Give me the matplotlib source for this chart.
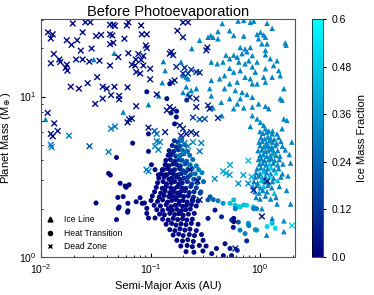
import numpy as np
import matplotlib
matplotlib.use('Agg')
from matplotlib import pyplot as plt
from matplotlib.colors import LinearSegmentedColormap
from matplotlib.lines import Line2D

plt.rcParams.update({
    'font.family': ['Liberation Sans', 'DejaVu Sans'],
    'font.size': 8,
})

# ---- Ice Line planets (triangles) ----
ice_a = [0.0304, 0.0110, 0.0466, 0.131, 0.136, 0.128, 0.119, 0.0958, 0.0563,
         0.452, 0.527, 0.413, 0.335, 0.355, 0.372, 0.413, 0.281, 0.238, 0.489,
         0.528, 0.459, 0.359, 0.407, 0.528, 0.474, 0.359, 0.428, 0.528, 0.347,
         0.474, 0.359, 0.372, 0.443, 0.528, 0.449, 0.190, 0.198, 0.212, 0.220,
         0.212, 0.262, 0.235, 0.198, 0.220,
         0.63, 0.71, 0.815, 0.876, 1.16, 1.29, 0.575, 0.71, 0.94, 1.01,
         1.08, 0.97, 1.12, 1.04, 1.16, 1.70, 1.73, 0.66, 0.73, 0.815,
         0.575, 0.62, 0.685, 0.76, 1.12, 1.12, 0.85, 0.79, 0.94, 1.24,
         1.43, 0.64, 0.73, 0.66, 0.575, 0.85, 1.12, 1.33, 1.48, 0.905,
         0.73, 0.815, 0.62, 0.85, 0.94, 1.08, 1.29, 1.53, 1.12, 1.65,
         0.595, 0.685, 0.76, 0.85, 0.66, 0.62, 0.575, 0.71, 0.85, 0.97,
         1.12, 1.20, 1.53, 1.59, 0.85, 0.94, 1.01, 1.08, 1.12, 1.20,
         1.29, 1.43, 1.65, 1.76, 1.59, 0.815,
         1.00, 1.06, 1.15, 1.30,
         1.02, 1.10, 1.18, 1.25, 1.35, 1.48,
         0.98, 1.05, 1.15, 1.22, 1.30, 1.42, 1.55, 1.95,
         1.00, 1.08, 1.13, 1.20, 1.28, 1.38, 1.60,
         0.96, 1.04, 1.12, 1.18, 1.26, 1.33, 1.45, 1.70,
         1.00, 1.07, 1.15, 1.24, 1.30, 1.40, 1.52, 1.85,
         0.97, 1.03, 1.10, 1.20, 1.27, 1.36, 1.50,
         0.99, 1.06, 1.14, 1.22, 1.32, 1.45, 1.62, 1.90,
         0.94, 1.02, 1.09, 1.17, 1.26, 1.35, 1.48,
         0.92, 1.00, 1.08, 1.15, 1.25, 1.40, 1.60,
         0.90, 0.97, 1.05, 1.12, 1.22, 1.33, 1.55, 1.80,
         0.88, 0.95, 1.03, 1.10, 1.20, 1.30, 1.45,
         0.86, 0.94, 1.01, 1.08, 1.18, 1.28, 1.50,
         0.90, 0.98, 1.06, 1.16, 1.35, 1.75,
         0.92, 1.00, 1.12, 1.25, 1.40,
         1.04, 1.43, 1.29, 1.15, 1.65, 1.65, 1.90]
ice_m = [17.0, 7.2, 18.6, 16.5, 14.5, 12.2, 10.1, 8.9, 8.0,
         28.5, 25.7, 25.4, 23.4, 24.0, 23.4, 22.9, 22.4, 19.9, 18.1,
         17.2, 16.4, 16.4, 16.0, 15.0, 13.5, 12.6, 12.9, 12.0, 11.2,
         11.2, 10.1, 8.5, 9.2, 9.7, 7.6, 16.4, 13.5, 13.2, 12.9,
         11.5, 11.2, 10.9, 10.6, 10.4,
         29.5, 29.8, 29.0, 29.5, 28.6, 26.6, 24.0, 23.8, 24.4, 25.1,
         24.2, 22.9, 23.4, 21.3, 21.3, 21.6, 20.9, 20.2, 19.8, 20.2,
         18.1, 17.6, 18.5, 19.0, 19.4, 18.2, 18.0, 16.7, 16.4, 17.2,
         16.7, 16.4, 16.0, 14.5, 14.2, 15.3, 14.9, 15.6, 14.5, 14.2,
         13.2, 12.9, 12.3, 12.0, 12.0, 13.2, 13.2, 13.5, 12.3, 11.2,
         10.9, 10.6, 10.3, 9.9, 9.7, 9.0, 8.4, 8.5, 8.6, 9.0,
         8.7, 8.4, 9.7, 9.5, 7.6, 7.25, 6.9, 6.6, 6.3, 6.1,
         5.85, 5.85, 7.25, 7.1, 6.3, 6.5,
         6.05, 5.9, 6.0, 6.1,
         5.55, 5.45, 5.6, 5.5, 5.4, 5.55,
         5.2, 5.25, 5.15, 5.3, 5.2, 5.1, 5.25, 5.2,
         4.95, 4.85, 4.95, 4.9, 4.85, 4.95, 4.9,
         4.6, 4.65, 4.55, 4.6, 4.7, 4.55, 4.6, 4.65,
         4.3, 4.35, 4.25, 4.3, 4.4, 4.3, 4.25, 4.35,
         4.05, 4.1, 4.0, 4.05, 4.1, 4.0, 4.05,
         3.8, 3.85, 3.75, 3.8, 3.85, 3.75, 3.8, 3.85,
         3.55, 3.6, 3.5, 3.55, 3.6, 3.5, 3.55,
         3.35, 3.3, 3.4, 3.35, 3.3, 3.35, 3.3,
         3.15, 3.2, 3.1, 3.15, 3.2, 3.1, 3.15, 3.2,
         2.95, 2.9, 3.0, 2.95, 2.9, 2.95, 3.0,
         2.75, 2.8, 2.7, 2.75, 2.8, 2.7, 2.75,
         2.55, 2.5, 2.6, 2.55, 2.5, 2.6,
         2.35, 2.3, 2.4, 2.3, 2.35,
         2.0, 2.14, 1.74, 1.37, 1.44, 1.68, 2.14]
ice_f = [0.30, 0.30, 0.31, 0.30, 0.31, 0.30, 0.32, 0.30, 0.31,
         0.32, 0.31, 0.32, 0.31, 0.32, 0.31, 0.32, 0.31, 0.30, 0.32,
         0.31, 0.32, 0.31, 0.32, 0.31, 0.32, 0.31, 0.32, 0.31, 0.32,
         0.31, 0.32, 0.31, 0.32, 0.31, 0.32, 0.30, 0.31, 0.31, 0.30,
         0.31, 0.30, 0.31, 0.30, 0.31,
         0.32, 0.31, 0.32, 0.31, 0.32, 0.31, 0.32, 0.31, 0.32, 0.31,
         0.32, 0.31, 0.32, 0.31, 0.32, 0.31, 0.32, 0.31, 0.32, 0.31,
         0.32, 0.31, 0.32, 0.31, 0.32, 0.31, 0.32, 0.31, 0.32, 0.31,
         0.32, 0.31, 0.32, 0.31, 0.32, 0.31, 0.32, 0.31, 0.32, 0.31,
         0.32, 0.31, 0.32, 0.31, 0.32, 0.31, 0.32, 0.31, 0.32, 0.31,
         0.32, 0.31, 0.32, 0.31, 0.32, 0.31, 0.32, 0.31, 0.32, 0.31,
         0.32, 0.31, 0.32, 0.31, 0.32, 0.31, 0.32, 0.31, 0.32, 0.31,
         0.32, 0.31, 0.32, 0.31, 0.32, 0.31,
         0.31, 0.32, 0.31, 0.32,
         0.31, 0.32, 0.31, 0.32, 0.31, 0.32,
         0.31, 0.32, 0.31, 0.32, 0.31, 0.32, 0.31, 0.32,
         0.31, 0.32, 0.31, 0.32, 0.31, 0.32, 0.31,
         0.31, 0.32, 0.31, 0.32, 0.31, 0.32, 0.31, 0.32,
         0.31, 0.32, 0.31, 0.32, 0.38, 0.32, 0.31, 0.32,
         0.31, 0.32, 0.31, 0.32, 0.31, 0.32, 0.31,
         0.31, 0.32, 0.31, 0.45, 0.31, 0.32, 0.31, 0.32,
         0.31, 0.32, 0.31, 0.32, 0.45, 0.32, 0.31,
         0.31, 0.32, 0.46, 0.32, 0.31, 0.47, 0.31,
         0.31, 0.32, 0.31, 0.32, 0.48, 0.32, 0.31, 0.32,
         0.31, 0.32, 0.47, 0.32, 0.31, 0.32, 0.45,
         0.31, 0.32, 0.31, 0.46, 0.32, 0.31, 0.32,
         0.31, 0.32, 0.31, 0.32, 0.45, 0.32,
         0.31, 0.32, 0.31, 0.32, 0.31,
         0.31, 0.32, 0.31, 0.30, 0.31, 0.32, 0.31]

# ---- Heat Transition planets (circles) ----
heat_a = [0.0687, 0.0318, 0.0414, 0.0430, 0.0489, 0.0528, 0.0586, 0.0517, 0.0489, 0.0622,
          0.0622, 0.0740, 0.0804, 0.0840, 0.0958, 0.0600, 0.0638, 0.102, 0.110, 0.118,
          0.131, 0.136, 0.141, 0.0503, 0.0563, 0.0508, 0.0617, 0.088, 0.0925, 0.0925,
          0.0958, 0.110, 0.0925, 0.141, 0.0958, 0.172, 0.166, 0.150, 0.154, 0.173, 0.214,
          0.288, 0.350, 0.374, 0.460, 0.532, 0.590, 0.657, 0.756, 0.870, 0.930,
          0.413, 0.335, 0.244, 0.388, 0.335, 0.445, 0.550, 0.634, 0.782, 0.570,
          0.657, 0.930, 0.479, 0.400, 0.532, 0.756, 0.362, 0.463, 0.550, 0.575,
          0.640, 0.710, 0.595, 0.876, 0.575, 0.575, 0.790, 0.905, 0.730, 0.620,
          1.16, 1.29, 1.38,
          0.165, 0.178, 0.192,
          0.158, 0.172, 0.186, 0.207,
          0.148, 0.163, 0.179, 0.196, 0.218,
          0.145, 0.155, 0.170, 0.187, 0.201, 0.228,
          0.138, 0.152, 0.167, 0.180, 0.194, 0.214, 0.243,
          0.137, 0.147, 0.160, 0.175, 0.188, 0.208, 0.230, 0.262,
          0.128, 0.143, 0.155, 0.166, 0.184, 0.198, 0.219, 0.240, 0.275,
          0.125, 0.136, 0.151, 0.162, 0.178, 0.190, 0.207, 0.232, 0.256, 0.295,
          0.119, 0.133, 0.147, 0.156, 0.172, 0.185, 0.202, 0.220, 0.248, 0.276,
          0.116, 0.130, 0.140, 0.155, 0.166, 0.181, 0.195, 0.217, 0.238, 0.268, 0.305,
          0.113, 0.128, 0.139, 0.153, 0.165, 0.176, 0.193, 0.210, 0.233, 0.262,
          0.109, 0.124, 0.136, 0.150, 0.161, 0.175, 0.188, 0.206, 0.226, 0.250, 0.284,
          0.104, 0.120, 0.133, 0.147, 0.159, 0.172, 0.186, 0.201, 0.221, 0.247,
          0.101, 0.116, 0.129, 0.143, 0.156, 0.170, 0.183, 0.198, 0.216, 0.240, 0.272,
          0.108, 0.123, 0.139, 0.154, 0.168, 0.181, 0.196, 0.213, 0.236, 0.262,
          0.114, 0.129, 0.145, 0.158, 0.174, 0.191, 0.209, 0.231,
          0.121, 0.134, 0.150, 0.166, 0.182, 0.199, 0.222, 0.251,
          0.129, 0.145, 0.161, 0.177, 0.196, 0.215, 0.241,
          0.139, 0.156, 0.171, 0.190, 0.211, 0.236, 0.272,
          0.150, 0.167, 0.186, 0.206, 0.229, 0.262,
          0.161, 0.181, 0.199, 0.226, 0.252, 0.292,
          0.174, 0.196, 0.219, 0.246, 0.302,
          0.189, 0.216, 0.241, 0.279, 0.322,
          0.211, 0.249, 0.301]
heat_m = [5.12, 2.17, 3.32, 3.24, 4.17, 2.88, 2.77, 2.05, 1.71, 2.16,
          1.94, 2.21, 2.34, 2.16, 4.55, 2.72, 2.82, 3.76, 3.5, 3.25,
          3.5, 3.76, 3.25, 2.35, 2.38, 2.01, 1.90, 2.17, 2.01, 1.87,
          1.75, 1.75, 10.7, 9.7, 5.85, 7.45, 6.75, 12.0, 7.9, 8.1, 9.5,
          2.55, 2.37, 2.28, 2.16, 2.16, 2.10, 2.05, 2.10, 2.05, 2.00,
          2.24, 2.27, 2.24, 1.96, 1.74, 1.78, 1.70, 1.65, 1.62, 1.53,
          1.47, 1.47, 1.21, 1.13, 1.13, 1.26, 1.05, 1.02, 1.02, 2.27,
          2.06, 2.11, 2.00, 2.00, 1.74, 1.66, 1.57, 1.48, 1.40, 1.10,
          1.55, 1.62, 1.51,
          5.3, 5.2, 5.35,
          4.95, 4.85, 4.9, 5.0,
          4.6, 4.55, 4.65, 4.6, 4.55,
          4.3, 4.35, 4.25, 4.3, 4.4, 4.3,
          4.0, 4.05, 3.95, 4.05, 4.0, 3.95, 4.05,
          3.75, 3.7, 3.8, 3.75, 3.7, 3.8, 3.75, 3.7,
          3.5, 3.55, 3.45, 3.5, 3.55, 3.45, 3.5, 3.55, 3.5,
          3.3, 3.25, 3.35, 3.3, 3.25, 3.3, 3.35, 3.25, 3.3, 3.35,
          3.1, 3.15, 3.05, 3.1, 3.15, 3.05, 3.1, 3.15, 3.05, 3.1,
          2.9, 2.95, 2.85, 2.9, 2.95, 2.85, 2.9, 2.95, 2.85, 2.9, 2.95,
          2.72, 2.68, 2.75, 2.7, 2.66, 2.74, 2.7, 2.68, 2.75, 2.7,
          2.55, 2.5, 2.58, 2.52, 2.56, 2.5, 2.55, 2.58, 2.52, 2.55, 2.5,
          2.4, 2.36, 2.42, 2.38, 2.4, 2.35, 2.42, 2.38, 2.4, 2.36,
          2.25, 2.22, 2.27, 2.2, 2.25, 2.28, 2.22, 2.25, 2.2, 2.26, 2.23,
          2.1, 2.08, 2.12, 2.06, 2.1, 2.13, 2.07, 2.1, 2.12, 2.08,
          1.97, 1.95, 1.99, 1.96, 1.98, 1.94, 1.97, 1.99,
          1.85, 1.83, 1.87, 1.84, 1.86, 1.82, 1.85, 1.87,
          1.72, 1.7, 1.74, 1.71, 1.73, 1.7, 1.72,
          1.6, 1.62, 1.58, 1.61, 1.59, 1.62, 1.6,
          1.48, 1.46, 1.5, 1.47, 1.49, 1.46,
          1.37, 1.39, 1.36, 1.38, 1.36, 1.38,
          1.27, 1.26, 1.28, 1.25, 1.27,
          1.17, 1.18, 1.16, 1.18, 1.17,
          1.08, 1.07, 1.09]
heat_f = [0.02, 0.02, 0.01, 0.02, 0.02, 0.01, 0.02, 0.01, 0.02, 0.01,
          0.02, 0.01, 0.02, 0.01, 0.02, 0.01, 0.02, 0.02, 0.03, 0.02,
          0.03, 0.02, 0.03, 0.01, 0.02, 0.01, 0.02, 0.01, 0.02, 0.01,
          0.02, 0.02, 0.03, 0.04, 0.03, 0.03, 0.02, 0.03, 0.04, 0.05, 0.10,
          0.20, 0.22, 0.25, 0.35, 0.45, 0.45, 0.40, 0.50, 0.45, 0.30,
          0.30, 0.20, 0.15, 0.05, 0.05, 0.10, 0.15, 0.20, 0.35, 0.05,
          0.30, 0.35, 0.05, 0.03, 0.05, 0.10, 0.03, 0.03, 0.05, 0.45,
          0.50, 0.45, 0.30, 0.30, 0.02, 0.02, 0.30, 0.35, 0.30, 0.10,
          0.50, 0.45, 0.50,
          0.12, 0.15, 0.20,
          0.08, 0.12, 0.18, 0.22,
          0.05, 0.08, 0.12, 0.20, 0.25,
          0.04, 0.05, 0.10, 0.15, 0.20, 0.25,
          0.03, 0.04, 0.06, 0.10, 0.18, 0.22, 0.27,
          0.02, 0.03, 0.04, 0.06, 0.12, 0.18, 0.24, 0.30,
          0.02, 0.02, 0.03, 0.05, 0.08, 0.14, 0.20, 0.25, 0.30,
          0.01, 0.02, 0.02, 0.04, 0.06, 0.10, 0.15, 0.20, 0.26, 0.30,
          0.01, 0.01, 0.02, 0.03, 0.04, 0.06, 0.10, 0.15, 0.20, 0.25,
          0.01, 0.01, 0.01, 0.02, 0.03, 0.04, 0.06, 0.10, 0.15, 0.20, 0.25,
          0.01, 0.01, 0.01, 0.02, 0.02, 0.03, 0.04, 0.06, 0.10, 0.15,
          0.01, 0.01, 0.01, 0.01, 0.02, 0.02, 0.03, 0.04, 0.06, 0.10, 0.15,
          0.01, 0.01, 0.01, 0.01, 0.01, 0.02, 0.02, 0.03, 0.04, 0.08,
          0.01, 0.01, 0.01, 0.01, 0.01, 0.01, 0.02, 0.02, 0.03, 0.04, 0.05,
          0.01, 0.01, 0.01, 0.01, 0.01, 0.01, 0.02, 0.02, 0.03, 0.04,
          0.01, 0.01, 0.01, 0.01, 0.01, 0.02, 0.02, 0.03,
          0.01, 0.01, 0.01, 0.01, 0.01, 0.02, 0.02, 0.03,
          0.01, 0.01, 0.01, 0.01, 0.02, 0.02, 0.03,
          0.01, 0.01, 0.01, 0.01, 0.02, 0.02, 0.03,
          0.01, 0.01, 0.01, 0.02, 0.02, 0.03,
          0.01, 0.01, 0.01, 0.02, 0.02, 0.03,
          0.01, 0.01, 0.02, 0.02, 0.03,
          0.01, 0.01, 0.02, 0.02, 0.03,
          0.01, 0.02, 0.02]

# ---- Dead Zone planets (crosses) ----
dead_a = [0.0195, 0.0254, 0.0282, 0.0116, 0.0128, 0.0123, 0.0240, 0.0318, 0.0354, 0.0172,
          0.0190, 0.0214, 0.0231, 0.0290, 0.0131, 0.0123, 0.0147, 0.0150, 0.0172, 0.0168,
          0.0174, 0.0209, 0.0240, 0.0276, 0.0342, 0.0326, 0.0187, 0.0222, 0.0267, 0.0366,
          0.0313, 0.0366, 0.0115, 0.0132, 0.0142, 0.0123, 0.0128, 0.0180,
          0.0458, 0.0427, 0.0474, 0.0628, 0.0607, 0.0821, 0.0427, 0.0448, 0.0578, 0.0833,
          0.0925, 0.0427, 0.0458, 0.0906, 0.0925, 0.0508, 0.0628, 0.0774, 0.0860, 0.0821,
          0.0734, 0.0675, 0.0724, 0.0427, 0.0860, 0.0993, 0.0740, 0.0804, 0.0993, 0.0399,
          0.0468, 0.0436, 0.0517, 0.0517, 0.0617, 0.0740, 0.0638, 0.0675, 0.0617, 0.141,
          0.0958, 0.109, 0.114, 0.136, 0.114,
          0.198, 0.220, 0.176, 0.198, 0.330, 0.323, 0.155, 0.161, 0.150, 0.172,
          0.205, 0.235, 0.262, 0.281, 0.198, 0.220, 0.166, 0.157, 0.228, 0.262,
          0.262, 0.335, 0.347, 0.413, 0.150, 0.161, 0.244, 0.281, 0.313, 0.185,
          0.198, 0.212, 0.235, 0.262, 0.190,
          0.0123, 0.0125, 0.0414, 0.114, 0.122, 0.110, 0.118, 0.092, 0.096, 0.190,
          0.205, 0.244, 0.291, 0.281, 0.220, 0.198, 0.180, 0.459, 0.489, 0.528,
          0.386, 0.532, 0.782, 0.704, 0.838, 0.634, 0.782, 0.0474, 0.0436,
          0.0277, 0.228, 0.268, 0.281, 0.873, 1.16, 1.04, 0.595, 1.96]
dead_m = [28.5, 29.0, 29.0, 25.1, 24.4, 23.0, 25.1, 23.8, 24.2, 22.4,
          21.0, 22.4, 19.3, 19.9, 18.4, 16.1, 17.0, 16.4, 15.8, 15.1,
          14.5, 17.0, 17.0, 16.5, 16.7, 13.2, 11.5, 11.2, 12.1, 11.5,
          9.0, 9.7, 7.9, 6.8, 6.1, 5.85, 5.65, 5.7,
          28.0, 28.0, 27.5, 29.0, 27.7, 27.7, 24.4, 24.0, 22.9, 24.4,
          24.4, 21.2, 21.6, 20.8, 20.0, 17.6, 18.6, 18.4, 17.9, 16.9,
          17.0, 15.8, 15.6, 15.6, 15.6, 14.9, 14.2, 13.9, 12.8, 11.2,
          11.5, 10.2, 10.1, 9.6, 11.4, 8.7, 7.2, 7.3, 6.9, 8.2,
          6.4, 6.1, 5.85, 6.0, 10.3,
          28.9, 29.0, 25.7, 23.4, 20.2, 19.4, 19.0, 18.1, 18.5, 15.3,
          15.1, 14.7, 14.2, 14.1, 13.9, 13.9, 12.6, 12.3, 9.9, 9.7,
          8.6, 8.8, 8.4, 7.35, 8.6, 8.3, 7.4, 7.2, 7.25, 6.6,
          6.3, 5.85, 6.0, 5.85, 5.7,
          5.0, 4.83, 4.52, 5.26, 5.2, 4.9, 4.66, 3.5, 3.42, 5.26,
          5.13, 5.2, 5.13, 4.56, 4.9, 4.45, 4.23, 3.42, 3.33, 3.25,
          3.07, 3.75, 3.98, 3.24, 3.16, 2.87, 2.87, 6.5, 6.3,
          4.9, 3.5, 2.98, 2.27, 2.61, 2.96, 1.79, 1.13, 1.57]
dead_f = [0.03, 0.02, 0.03, 0.02, 0.03, 0.02, 0.03, 0.04, 0.03, 0.02,
          0.03, 0.02, 0.03, 0.04, 0.02, 0.03, 0.02, 0.03, 0.02, 0.03,
          0.02, 0.03, 0.02, 0.03, 0.04, 0.03, 0.02, 0.03, 0.04, 0.03,
          0.03, 0.04, 0.02, 0.03, 0.04, 0.03, 0.02, 0.30,
          0.03, 0.02, 0.03, 0.04, 0.03, 0.02, 0.03, 0.02, 0.03, 0.04,
          0.03, 0.02, 0.03, 0.04, 0.03, 0.02, 0.03, 0.04, 0.03, 0.02,
          0.03, 0.04, 0.03, 0.02, 0.03, 0.04, 0.03, 0.02, 0.04, 0.03,
          0.02, 0.03, 0.04, 0.03, 0.02, 0.03, 0.04, 0.03, 0.02, 0.05,
          0.04, 0.20, 0.25, 0.05, 0.04,
          0.03, 0.04, 0.03, 0.04, 0.05, 0.06, 0.04, 0.05, 0.03, 0.08,
          0.10, 0.12, 0.10, 0.08, 0.10, 0.12, 0.05, 0.04, 0.06, 0.08,
          0.06, 0.08, 0.05, 0.06, 0.04, 0.05, 0.15, 0.20, 0.18, 0.06,
          0.08, 0.05, 0.06, 0.08, 0.05,
          0.30, 0.30, 0.30, 0.28, 0.30, 0.32, 0.30, 0.30, 0.32, 0.28,
          0.30, 0.32, 0.30, 0.28, 0.30, 0.32, 0.30, 0.38, 0.40, 0.36,
          0.32, 0.40, 0.45, 0.38, 0.42, 0.35, 0.35, 0.30, 0.30,
          0.20, 0.04, 0.03, 0.05, 0.08, 0.05, 0.04, 0.05, 0.50]

cmap = LinearSegmentedColormap.from_list('ice', ['#000080', '#00ffff'])
vmin, vmax = 0.0, 0.6

fig = plt.figure(figsize=(3.74, 2.95), dpi=100)
ax = fig.add_axes([0.1096, 0.1288, 0.6794, 0.8068])

ax.scatter(ice_a, ice_m, c=ice_f, cmap=cmap, vmin=vmin, vmax=vmax,
           marker='^', s=16, linewidths=0)
ax.scatter(heat_a, heat_m, c=heat_f, cmap=cmap, vmin=vmin, vmax=vmax,
           marker='o', s=13, linewidths=0)
sc = ax.scatter(dead_a, dead_m, c=dead_f, cmap=cmap, vmin=vmin, vmax=vmax,
                marker='x', s=17, linewidths=1.0)

ax.set_xscale('log')
ax.set_yscale('log')
ax.set_xlim(0.01, 2.09)
ax.set_ylim(1, 30.4)
ax.tick_params(which='both', direction='in', labelsize=7.5)
ax.tick_params(which='major', length=3)
ax.tick_params(which='minor', length=1.5)
for sp in ax.spines.values():
    sp.set_color('#555555')
    sp.set_linewidth(0.8)

ax.set_xlabel('Semi-Major Axis (AU)', fontsize=8)
ax.set_ylabel(r'Planet Mass (M$_\oplus$)', fontsize=8)
ax.set_title('Before Photoevaporation', fontsize=10.5, pad=2)

handles = [Line2D([], [], marker='^', color='k', linestyle='none', markersize=3.5),
           Line2D([], [], marker='o', color='k', linestyle='none', markersize=3),
           Line2D([], [], marker='x', color='k', linestyle='none', markersize=3.5,
                  markeredgewidth=1)]
ax.legend(handles, ['Ice Line', 'Heat Transition', 'Dead Zone'], loc='lower left',
          fontsize=6.2, frameon=False, handlelength=0.6, handletextpad=1.35,
          labelspacing=0.5, borderaxespad=0.3)

cax = fig.add_axes([0.834, 0.1288, 0.03, 0.8068])
cb = fig.colorbar(sc, cax=cax)
cb.set_ticks([0.0, 0.12, 0.24, 0.36, 0.48, 0.6])
cb.set_ticklabels(['0.0', '0.12', '0.24', '0.36', '0.48', '0.6'])
cb.ax.tick_params(labelsize=7.5, length=2.5)
cb.outline.set_linewidth(0.5)
cb.set_label('Ice Mass Fraction', fontsize=8)

fig.savefig('out.png', dpi=100)
